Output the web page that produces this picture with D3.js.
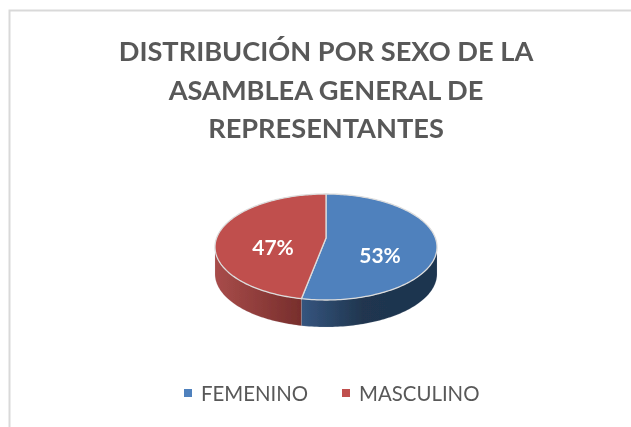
<!DOCTYPE html>
<html>
<head>
<meta charset="utf-8">
<script src="https://cdn.jsdelivr.net/npm/d3@7"></script>
<style>
  html, body { margin: 0; padding: 0; background: #fff; }
  svg { display: block; }
  text { font-family: Lato, "Open Sans", sans-serif; }
</style>
</head>
<body>
<div id="chart"></div>
<script>
// data
const categories = ["FEMENINO", "MASCULINO"];
const shares = [53, 47];
const titleLines = ["DISTRIBUCIÓN POR SEXO DE LA", "ASAMBLEA GENERAL DE", "REPRESENTANTES"];

const topColors = ["#4f81bd", "#c0504d"];
const sideStops = [
  [["0%", "#35557f"], ["45%", "#20364f"], ["100%", "#1d3450"]],
  [["0%", "#a84c4a"], ["100%", "#772e2c"]]
];

const width = 631, height = 427;
const cx = 326, cy = 247, rx = 111, ry = 53, depth = 27;
const persp = 0.17;   // perspective strength, the front of the pie looks bigger than the back

const svg = d3.select("#chart").append("svg")
    .attr("width", width)
    .attr("height", height);

const defs = svg.append("defs");

// the reference is a soft screenshot, so everything gets a very light blur
defs.append("filter")
    .attr("id", "soft")
    .attr("x", 0).attr("y", 0).attr("width", 1).attr("height", 1)
    .attr("filterUnits", "objectBoundingBox")
  .append("feGaussianBlur")
    .attr("stdDeviation", 0.35);

const root = svg.append("g").attr("filter", "url(#soft)");

// white backing so the blur filter covers the full page
root.append("rect")
    .attr("width", width)
    .attr("height", height)
    .attr("fill", "#fff");

// chart frame, only the top and left edges show in the crop
root.append("path")
    .attr("d", `M9.5,${height} V10.5 H${width}`)
    .attr("fill", "none")
    .attr("stroke", "#d9d9d9")
    .attr("stroke-width", 2);

// title
root.append("g").selectAll("text")
  .data(titleLines)
  .join("text")
    .attr("x", 326)
    .attr("y", (d, i) => 61 + i * 38.5)
    .attr("text-anchor", "middle")
    .attr("font-size", 27.2)
    .attr("font-weight", 700)
    .attr("fill", "#595959")
    .text(d => d);

const pieData = d3.pie().sort(null)(shares);

// circle to screen, keeps the rim an ellipse but moves the pie centre up
const sx = rx * Math.sqrt(1 - persp * persp);
const sy = ry * (1 - persp * persp);
const apex = [cx, cy - ry * persp];
function rim(a) {
  const u = Math.sin(a), v = -Math.cos(a);
  const w = 1 - persp * v;
  return [apex[0] + sx * u / w, apex[1] + sy * v / w];
}

function rimPoints(a0, a1) {
  const n = Math.max(2, Math.ceil(Math.abs(a1 - a0) / 0.02));
  return d3.range(n + 1).map(i => rim(a0 + (a1 - a0) * i / n));
}

const line = d3.line();

// side wall, only the front part of the rim can be seen
const frontStart = Math.acos(-persp);
const frontEnd = 2 * Math.PI - frontStart;
const sides = pieData.map((d, i) => ({
  index: i,
  a0: Math.max(d.startAngle, frontStart),
  a1: Math.min(d.endAngle, frontEnd)
})).filter(d => d.a1 > d.a0);

sides.forEach(s => {
  const pts = rimPoints(s.a0, s.a1);
  const xs = d3.extent(pts, p => p[0]);
  const grad = defs.append("linearGradient")
      .attr("id", `side${s.index}`)
      .attr("gradientUnits", "userSpaceOnUse")
      .attr("x1", xs[0])
      .attr("x2", xs[1])
      .attr("y1", 0).attr("y2", 0);
  grad.selectAll("stop")
    .data(sideStops[s.index])
    .join("stop")
      .attr("offset", d => d[0])
      .attr("stop-color", d => d[1]);

  const lower = pts.map(p => [p[0], p[1] + depth]).reverse();
  root.append("path")
      .attr("d", line(pts.concat(lower)) + "Z")
      .attr("fill", `url(#side${s.index})`)
      .attr("stroke", "#c9ced6")
      .attr("stroke-opacity", 0.25)
      .attr("stroke-width", 0.6);
});

// top face
root.append("g").selectAll("path")
  .data(pieData)
  .join("path")
    .attr("d", d => line([apex].concat(rimPoints(d.startAngle, d.endAngle))) + "Z")
    .attr("fill", (d, i) => topColors[i])
    .attr("stroke", "#dcdcdc")
    .attr("stroke-width", 1.3)
    .attr("stroke-linejoin", "round");

// data labels
const labelPos = [[380, 255], [273, 247]];
root.append("g").selectAll("text")
  .data(shares)
  .join("text")
    .attr("x", (d, i) => labelPos[i][0])
    .attr("y", (d, i) => labelPos[i][1])
    .attr("dy", "0.36em")
    .attr("text-anchor", "middle")
    .attr("font-size", 21)
    .attr("font-weight", 700)
    .attr("fill", "#fff")
    .text(d => d + "%");

// legend
const legendX = [201, 359];
const legend = root.append("g").selectAll("g")
  .data(categories)
  .join("g");
legend.append("rect")
    .attr("x", (d, i) => legendX[i] - 17)
    .attr("y", 389)
    .attr("width", 8)
    .attr("height", 8)
    .attr("fill", (d, i) => topColors[i]);
legend.append("text")
    .attr("x", (d, i) => legendX[i])
    .attr("y", 401)
    .attr("font-size", 20.4)
    .attr("fill", "#595959")
    .text(d => d);
</script>
</body>
</html>
